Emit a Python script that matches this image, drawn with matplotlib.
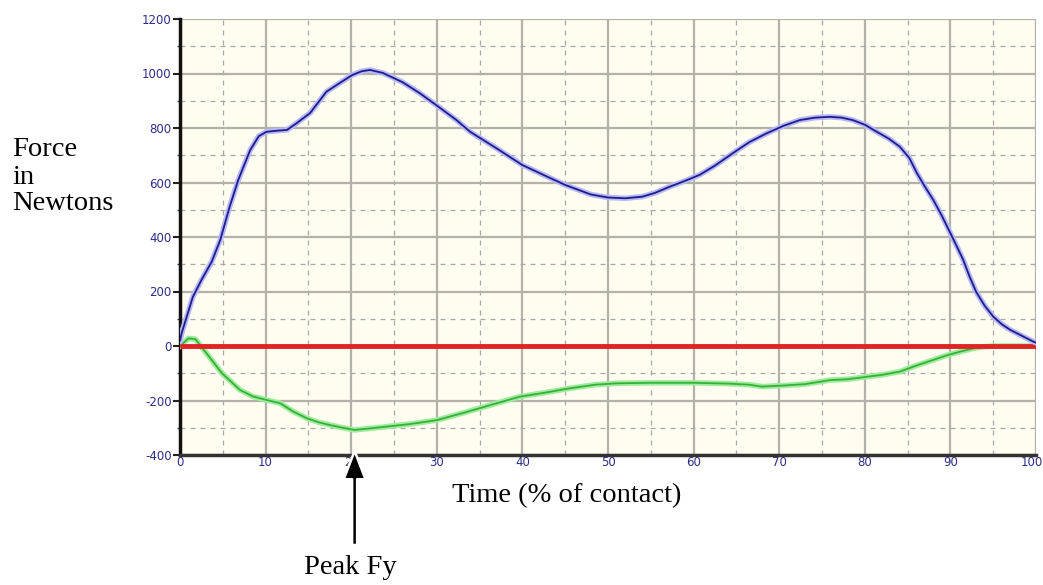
import numpy as np
import matplotlib
matplotlib.use('Agg')
import matplotlib.pyplot as plt
from matplotlib.ticker import MultipleLocator
from matplotlib.transforms import ScaledTranslation

# Vertical ground reaction force (Fz), % of contact vs Newtons
fz_t = [0, 0.2, 1.5, 2.5, 3.7, 4.7, 5.8, 6.8, 8.2, 9.2, 10.1, 11.3, 12.5, 13.6, 15.2,
        17.1, 18.8, 20.1, 21.2, 22.2, 23.7, 26.0, 28.0, 30.2, 32.3, 33.9, 37.0, 40.0,
        43.0, 45.0, 48.0, 50.0, 52.0, 54.0, 55.5, 57.0, 59.0, 60.7, 62.5, 64.6, 66.5,
        68.5, 70.5, 72.4, 74.2, 75.9, 77.3, 78.6, 80.0, 81.4, 82.8, 84.1, 85.2, 86.1,
        87.0, 88.0, 89.0, 90.0, 90.8, 91.5, 92.2, 93.0, 94.0, 95.0, 96.0, 97.0, 98.5,
        99.7, 100]
fz = [20, 48, 180, 242, 309, 389, 511, 609, 719, 770, 786, 790, 793, 817, 855,
      933, 968, 994, 1008, 1013, 1002, 968, 928, 878, 829, 786, 725, 664,
      620, 591, 556, 545, 542, 548, 562, 582, 606, 628, 662, 708, 748,
      780, 808, 829, 838, 841, 838, 829, 812, 786, 761, 731, 690, 634,
      586, 536, 478, 414, 362, 316, 258, 199, 148, 108, 80, 59, 35,
      16, 12]

# Horizontal (braking/propulsive) force Fy
fy_t = [0, 1.0, 1.8, 3.1, 4.9, 7.0, 8.5, 10.1, 11.7, 13.2, 14.8, 16.2, 17.5, 19.0,
        20.4, 22.0, 24.1, 27.0, 30.0, 33.5, 37.0, 39.7, 42.5, 45.6, 48.5, 51.0,
        55.0, 60.0, 64.0, 66.5, 68.0, 70.5, 73.0, 76.0, 78.0, 80.2, 82.0, 84.1,
        86.0, 88.0, 89.5, 91.1, 92.5, 93.8, 95.0, 97.0, 100]
fy = [0, 28, 25, -27, -100, -161, -185, -198, -210, -240, -265, -280, -290, -300,
      -308, -303, -296, -286, -272, -242, -210, -186, -172, -155, -142, -137,
      -135, -135, -138, -142, -149, -145, -140, -125, -122, -113, -106, -94,
      -72, -51, -35, -21, -10, -3, 0, 0, 0]

x_ticks = [0, 10, 20, 30, 40, 50, 60, 70, 80, 90, 100]
y_ticks = [-400, -200, 0, 200, 400, 600, 800, 1000, 1200]
peak_t = 20.4

W, H = 1043, 585
fig = plt.figure(figsize=(W / 100, H / 100), dpi=100)
fig.patch.set_facecolor('white')
ax = fig.add_axes([180 / W, 1 - 455 / H, 856 / W, 436 / H])
ax.set_facecolor('#fffdf0')

ax.set_xlim(0, 100)
ax.set_ylim(-400, 1200)
ax.set_xticks(x_ticks)
ax.set_yticks(y_ticks)
ax.xaxis.set_minor_locator(MultipleLocator(5))
ax.yaxis.set_minor_locator(MultipleLocator(100))

# solid major grid, dashed minor grid
ax.grid(which='major', color='#b4b2a8', linewidth=1.6, linestyle='-')
ax.grid(which='minor', color='#a8a8a8', linewidth=0.9, linestyle=(0, (4, 4)))
ax.set_axisbelow(True)

for s in ['top', 'right']:
    ax.spines[s].set_visible(False)
ax.spines['left'].set_linewidth(2.5)
ax.spines['left'].set_color('#111111')
ax.spines['bottom'].set_linewidth(2.5)
ax.spines['bottom'].set_color('#333333')

ax.tick_params(axis='both', which='major', labelsize=8.5, labelcolor='#2c2c88',
               width=1.5, color='#222222')
ax.tick_params(axis='y', which='major', length=5, pad=1)
ax.tick_params(axis='x', which='major', length=0, pad=1)
ax.tick_params(axis='y', which='minor', length=2, width=1, color='#444444')
ax.tick_params(axis='x', which='minor', length=0)
ax.set_xticklabels([str(v) for v in x_ticks])
ax.set_yticklabels([str(v) for v in y_ticks])
last = ax.get_xticklabels()[-1]
last.set_transform(last.get_transform() + ScaledTranslation(-4 / 100, 0, fig.dpi_scale_trans))

# zero line
ax.plot([0, 100], [0, 0], color='#e02424', linewidth=3.5, zorder=4, solid_capstyle='butt')

# Fz with soft halo
ax.plot(fz_t, fz, color='#b8b8f4', linewidth=4, zorder=5)
ax.plot(fz_t, fz, color='#1c1c8c', linewidth=1.3, zorder=6)

# Fy with light green band
ax.plot(fy_t, fy, color='#9eec9e', linewidth=4, zorder=3)
ax.plot(fy_t, fy, color='#38b038', linewidth=1.3, zorder=3.5)

serif = ['Liberation Serif', 'DejaVu Serif']
fs = 20.5
fig.text(12 / W, 1 - 150 / H, 'Force', fontsize=fs, family=serif, va='center', ha='left')
fig.text(12 / W, 1 - 177 / H, 'in', fontsize=fs, family=serif, va='center', ha='left')
fig.text(12 / W, 1 - 203 / H, 'Newtons', fontsize=fs, family=serif, va='center', ha='left')
fig.text(567 / W, 1 - 496 / H, 'Time (% of contact)', fontsize=fs, family=serif,
         va='center', ha='center')
fig.text(350 / W, 1 - 567 / H, 'Peak Fy', fontsize=fs, family=serif, va='center', ha='center')

# arrow pointing up at the Fy minimum
arrow_x = ax.transData.transform((peak_t, -400))[0] / W
ax.annotate('', xy=(peak_t, -385), xycoords='data',
            xytext=(arrow_x, 1 - 545 / H), textcoords='figure fraction',
            arrowprops=dict(arrowstyle='simple,head_width=1.3,head_length=1.7,tail_width=0.3',
                            mutation_scale=12, fc='black', ec='white', lw=1.8,
                            shrinkA=0, shrinkB=0),
            annotation_clip=False, zorder=10)

fig.savefig('out.png', dpi=100)
